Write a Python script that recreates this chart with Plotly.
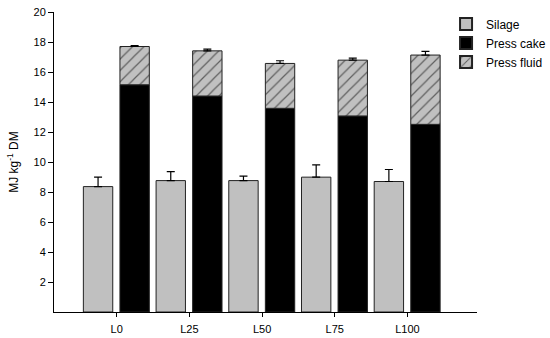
import plotly.graph_objects as go

categories = ["L0", "L25", "L50", "L75", "L100"]
silage = [8.36, 8.76, 8.76, 8.99, 8.70]
silage_err = [0.63, 0.60, 0.30, 0.82, 0.80]
press_cake = [15.15, 14.40, 13.58, 13.07, 12.51]
press_fluid = [2.55, 3.01, 2.99, 3.72, 4.62]
fluid_err = [0.06, 0.11, 0.18, 0.14, 0.24]
y_ticks = [2, 4, 6, 8, 10, 12, 14, 16, 18, 20]

bar_w = 0.404
line = dict(color="#222222", width=1)

fig = go.Figure()
fig.add_trace(go.Bar(
    name="Silage", x=categories, y=silage, width=bar_w, offset=-0.458,
    marker=dict(color="#c0c0c0", line=line),
    error_y=dict(type="data", symmetric=False, array=silage_err,
                 arrayminus=[0] * len(silage_err), color="black", thickness=1.2, width=4),
))
fig.add_trace(go.Bar(
    name="Press cake", x=categories, y=press_cake, width=bar_w, offset=0.045,
    marker=dict(color="black", line=line),
))
fig.add_trace(go.Bar(
    name="Press fluid", x=categories, y=press_fluid, base=press_cake,
    width=bar_w, offset=0.045,
    marker=dict(color="#c0c0c0", line=line,
                pattern=dict(shape="/", fgcolor="black", bgcolor="#c0c0c0",
                             size=8, solidity=0.15, fillmode="overlay")),
    error_y=dict(type="data", symmetric=False, array=fluid_err,
                 arrayminus=[0] * len(fluid_err), color="black", thickness=1.2, width=4),
))

fig.update_layout(
    width=550, height=338,
    margin=dict(l=54, r=73, t=12, b=26, autoexpand=False),
    plot_bgcolor="white", paper_bgcolor="white",
    font=dict(family="Liberation Sans, Arial, sans-serif", size=11, color="black"),
    barmode="overlay",
    showlegend=True,
    legend=dict(xref="container", yref="container", x=0.811, y=0.972,
                xanchor="left", yanchor="top",
                bgcolor="rgba(0,0,0,0)", font=dict(size=12),
                tracegroupgap=0, itemsizing="constant"),
    xaxis=dict(
        type="category", range=[-0.862, 4.956], automargin=False,
        showline=True, linecolor="black", linewidth=1,
        ticks="outside", ticklen=4, tickcolor="black", ticklabelstandoff=3,
        showgrid=False, zeroline=False,
    ),
    yaxis=dict(
        range=[0, 20], tickvals=y_ticks, automargin=False,
        showline=True, linecolor="black", linewidth=1,
        ticks="outside", ticklen=5, tickcolor="black",
        showgrid=False, zeroline=False,
        title=dict(text="MJ kg<sup>-1</sup> DM", font=dict(size=12), standoff=12),
    ),
)

fig.write_html(
    "out.html",
    config={"displayModeBar": False},
    post_script="document.body.style.margin='0';document.body.style.padding='0';",
)
